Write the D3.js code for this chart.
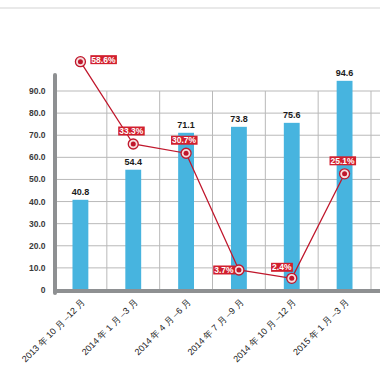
<!DOCTYPE html>
<html><head><meta charset="utf-8">
<script src="https://cdn.jsdelivr.net/npm/d3@7"></script>
<style>body{margin:0;background:#fff}svg{display:block}</style>
</head><body>
<svg id="c" width="380" height="380"></svg>
<script>
const categories = ["2013 年 10 月 –12 月","2014 年 1 月 –3 月","2014 年 4 月 –6 月","2014 年 7 月 –9 月","2014 年 10 月 –12 月","2015 年 1 月 –3 月"];
const barValues = [40.8, 54.4, 71.1, 73.8, 75.6, 94.6];
const growthValues = [58.6, 33.3, 30.7, 3.7, 2.4, 25.1];
const yTicks = [0,10,20,30,40,50,60,70,80,90];
// label placement relative to the point (style only)
const labelPlace = ["right","above","above","left","upleft","above"];

const svg = d3.select("#c");
const x = d3.scaleBand().domain(categories).range([54,371]).paddingInner(0.7).paddingOuter(0.35);
const y = d3.scaleLinear().domain([0,90]).range([290,91]);
const y2 = d3.scalePow().exponent(0.75).domain([0,60]).range([300,57.4]);
const font = "'Liberation Sans', Arial, sans-serif";

svg.append("line").attr("x1",0).attr("x2",380).attr("y1",8).attr("y2",8).attr("stroke","#e2e2e2").attr("stroke-width",1.5);

// grid
const g = svg.append("g");
g.selectAll("line.h").data(yTicks.filter(d=>d>0)).join("line")
  .attr("x1",55).attr("x2",380).attr("y1",d=>y(d)).attr("y2",d=>y(d))
  .attr("stroke","#b9b9b9").attr("stroke-width",1);
g.selectAll("line.v").data(d3.range(1,7)).join("line")
  .attr("x1",i=>x.range()[0]+i*x.step()).attr("x2",i=>x.range()[0]+i*x.step())
  .attr("y1",y(90)).attr("y2",y(0))
  .attr("stroke","#b9b9b9").attr("stroke-width",1);

// bars
svg.selectAll("rect.bar").data(barValues).join("rect").attr("class","bar")
  .attr("x",(d,i)=>x(categories[i])).attr("width",x.bandwidth())
  .attr("y",d=>y(d)).attr("height",d=>y(0)-y(d)).attr("fill","#47b4df");
svg.selectAll("text.bv").data(barValues).join("text").attr("class","bv")
  .attr("x",(d,i)=>x(categories[i])+x.bandwidth()/2).attr("y",d=>y(d)-5)
  .attr("text-anchor","middle").attr("font-family",font).attr("font-weight","bold")
  .attr("font-size",9).attr("fill","#1a1a1a").text(d=>d.toFixed(1));

// axes
svg.append("line").attr("x1",55).attr("x2",380).attr("y1",291).attr("y2",291)
  .attr("stroke","#8e9092").attr("stroke-width",4);
svg.append("line").attr("x1",55).attr("x2",55).attr("y1",75).attr("y2",293)
  .attr("stroke","#8e9092").attr("stroke-width",4).attr("stroke-linecap","round");

// y tick labels
svg.selectAll("text.yt").data(yTicks).join("text").attr("class","yt")
  .attr("x",45.5).attr("y",d=>y(d)+3).attr("text-anchor","end")
  .attr("font-family",font).attr("font-weight","bold").attr("font-size",8.5).attr("fill","#3a3a3a")
  .text(d=>d===0?"0":d.toFixed(1));

// x labels
svg.selectAll("text.xt").data(categories).join("text").attr("class","xt")
  .attr("transform",d=>`translate(${x(d)+x.bandwidth()/2+5},303) rotate(-45)`)
  .attr("text-anchor","end").attr("font-family",font).attr("font-size",9).attr("fill","#222")
  .text(d=>d);

// line
const px = (d,i)=>x(categories[i])+x.bandwidth()/2;
const line = d3.line().x(px).y(d=>y2(d));
svg.append("path").datum(growthValues).attr("d",line).attr("fill","none")
  .attr("stroke","#c0172c").attr("stroke-width",1.3);
const pts = svg.selectAll("g.pt").data(growthValues).join("g")
  .attr("transform",(d,i)=>`translate(${px(d,i)},${y2(d)})`);
pts.append("circle").attr("r",5).attr("fill","#f6dede").attr("stroke","#c0172c").attr("stroke-width",1.3);
pts.append("circle").attr("r",2.5).attr("fill","#c0172c");

// labels
const lab = pts.append("g").attr("transform",(d,i)=>{
  const p = labelPlace[i];
  if(p==="right") return "translate(23,-2)";
  if(p==="above") return "translate(-2,-13)";
  if(p==="left") return "translate(-15,0)";
  return "translate(-10,-11)";
});
lab.each(function(d){
  const s = d3.select(this);
  const t = s.append("text").attr("text-anchor","middle").attr("y",3).attr("font-family",font)
    .attr("font-weight","bold").attr("font-size",8.5).attr("fill","#fff").text(d.toFixed(1)+"%");
  const b = t.node().getBBox();
  s.insert("rect","text").attr("x",b.x-1).attr("y",-4.5).attr("width",b.width+2).attr("height",9).attr("fill","#d21f2e");
});
</script>
</body></html>
